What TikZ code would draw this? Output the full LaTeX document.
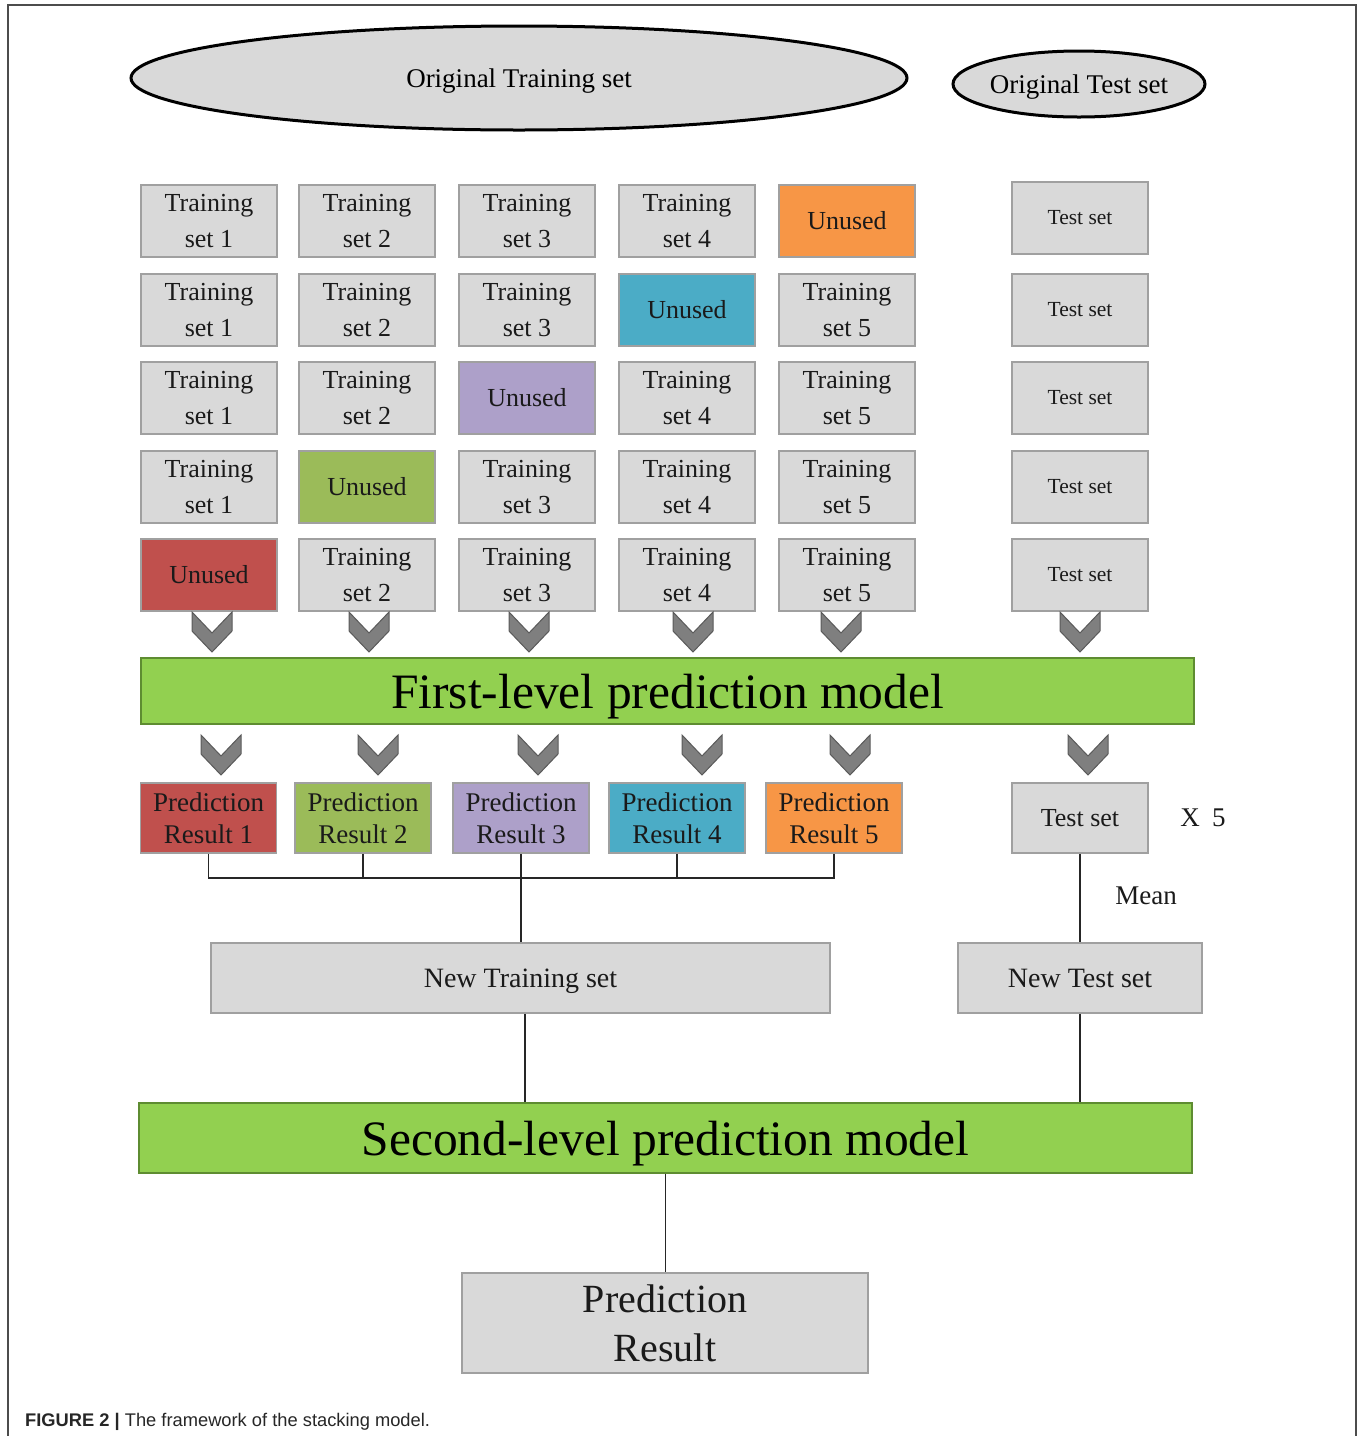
\documentclass[tikz,border=0pt]{standalone}
\usepackage{fontspec}
\setmainfont{Liberation Serif}
\newfontfamily\capfont{Liberation Sans}
\usetikzlibrary{shapes.geometric}
\definecolor{boxgray}{HTML}{D9D9D9}
\definecolor{boxedge}{HTML}{A0A0A0}
\definecolor{cRed}{HTML}{C0504D}
\definecolor{cOlive}{HTML}{9BBB59}
\definecolor{cPurple}{HTML}{ADA0C9}
\definecolor{cBlue}{HTML}{4BACC6}
\definecolor{cOrange}{HTML}{F79646}
\definecolor{barGreen}{HTML}{92D050}
\definecolor{barEdge}{HTML}{5E8C31}
\definecolor{chevFill}{HTML}{7F7F7F}
\definecolor{chevEdge}{HTML}{5A5A5A}
\definecolor{txt}{HTML}{1A1A1A}
\tikzset{
  x=1pt, y=-1pt,
  gbox/.style={draw=boxedge, line width=1.5pt, fill=boxgray, minimum width=136pt, minimum height=72pt, inner sep=0pt, align=center, text=txt, font=\fontsize{26}{36}\selectfont},
  pbox/.style={gbox, minimum height=70pt, font=\fontsize{27}{32}\selectfont},
  tsbox/.style={gbox, font=\fontsize{21.5}{26}\selectfont},
  bar/.style={draw=barEdge, line width=1.2pt, fill=barGreen, minimum width=1053pt, minimum height=66pt, inner sep=0pt, text depth=0pt, font=\fontsize{49.5}{55}\selectfont},
  oval/.style={ellipse, draw=black, line width=3pt, fill=boxgray, inner sep=0pt, text depth=0pt, font=\fontsize{27}{30}\selectfont},
  conn/.style={draw=black!85, line width=1.8pt},
  chevstyle/.style={fill=chevFill, draw=chevEdge, line width=1pt, line join=miter},
  chev/.pic={\path[chevstyle] (-20,0) -- (0,21) -- (20,0) -- (20,19) -- (0,40) -- (-20,19) -- cycle;},
  lbl/.style={font=\fontsize{27}{30}\selectfont, text=txt, inner sep=0pt}
}
\begin{document}
\begin{tikzpicture}
\useasboundingbox (0,0) rectangle (1357,1436);
% frame
\draw[line width=1.2pt, draw=black!70] (8,1436) -- (8,5) -- (1356,5) -- (1356,1436);

% ellipses
\node[oval, minimum width=776pt, minimum height=104pt] (otr) at (519,78) {Original Training set};
\node[oval, minimum width=252pt, minimum height=66pt] (ote) at (1079,84) {Original Test set};

% grid row 1
\node[gbox] (t11) at (209,221) {Training\\set 1};
\node[gbox] (t12) at (367,221) {Training\\set 2};
\node[gbox] (t13) at (527,221) {Training\\set 3};
\node[gbox] (t14) at (687,221) {Training\\set 4};
\node[gbox, fill=cOrange] (t15) at (847,221) {Unused};
% row 2
\node[gbox] (t21) at (209,310) {Training\\set 1};
\node[gbox] (t22) at (367,310) {Training\\set 2};
\node[gbox] (t23) at (527,310) {Training\\set 3};
\node[gbox, fill=cBlue] (t24) at (687,310) {Unused};
\node[gbox] (t25) at (847,310) {Training\\set 5};
% row 3
\node[gbox] (t31) at (209,398) {Training\\set 1};
\node[gbox] (t32) at (367,398) {Training\\set 2};
\node[gbox, fill=cPurple] (t33) at (527,398) {Unused};
\node[gbox] (t34) at (687,398) {Training\\set 4};
\node[gbox] (t35) at (847,398) {Training\\set 5};
% row 4
\node[gbox] (t41) at (209,487) {Training\\set 1};
\node[gbox, fill=cOlive] (t42) at (367,487) {Unused};
\node[gbox] (t43) at (527,487) {Training\\set 3};
\node[gbox] (t44) at (687,487) {Training\\set 4};
\node[gbox] (t45) at (847,487) {Training\\set 5};
% row 5
\node[gbox, fill=cRed] (t51) at (209,575) {Unused};
\node[gbox] (t52) at (367,575) {Training\\set 2};
\node[gbox] (t53) at (527,575) {Training\\set 3};
\node[gbox] (t54) at (687,575) {Training\\set 4};
\node[gbox] (t55) at (847,575) {Training\\set 5};
% test column
\node[tsbox] (s1) at (1080,218) {Test set};
\node[tsbox] (s2) at (1080,310) {Test set};
\node[tsbox] (s3) at (1080,398) {Test set};
\node[tsbox] (s4) at (1080,487) {Test set};
\node[tsbox] (s5) at (1080,575) {Test set};

% chevrons row 1
\foreach \cx in {212,369,529,693,841,1080} \pic at (\cx,612) {chev};

% first-level bar
\node[bar] (fl) at (667.5,691) {First-level prediction model};

% chevrons row 2
\foreach \cx in {221,378,538,702,850,1088} \pic at (\cx,735) {chev};

% prediction results
\node[pbox, fill=cRed] (p1) at (208.5,818) {Prediction\\Result 1};
\node[pbox, fill=cOlive] (p2) at (363,818) {Prediction\\Result 2};
\node[pbox, fill=cPurple] (p3) at (521,818) {Prediction\\Result 3};
\node[pbox, fill=cBlue] (p4) at (677,818) {Prediction\\Result 4};
\node[pbox, fill=cOrange] (p5) at (834,818) {Prediction\\Result 5};
\node[pbox, font=\fontsize{26}{30}\selectfont] (ts) at (1080,818) {Test set};
\node[lbl, anchor=center] (x5) at (1203,818) {X\hspace{0.45em}5};
\node[lbl, anchor=center] (mean) at (1146,896) {Mean};

% new sets
\node[gbox, minimum width=619pt, minimum height=70pt, text depth=0pt, font=\fontsize{28}{32}\selectfont] (ntr) at (520.5,978) {New Training set};
\node[gbox, minimum width=244pt, minimum height=70pt, font=\fontsize{28}{32}\selectfont] (nts) at (1080,978) {New Test set};

% second-level bar
\node[bar, minimum height=70pt] (sl) at (665.5,1138) {Second-level prediction model};

% final result
\node[gbox, minimum width=406pt, minimum height=100pt, font=\fontsize{40}{49}\selectfont] (pr) at (665,1323) {Prediction\\Result};

% connectors
\coordinate (bus) at (0,878);
\draw[conn] (p1.south) -- (p1.south |- bus) -| (p5.south);
\draw[conn] (p2.south) -- (p2.south |- bus);
\draw[conn] (p4.south) -- (p4.south |- bus);
\draw[conn] (p3.south) -- (p3.south |- ntr.north);
\draw[conn] (ts.south) -- (nts.north);
\draw[conn] ([xshift=4.5pt]ntr.south) -- ([xshift=4.5pt]ntr.south |- sl.north);
\draw[conn] (nts.south) -- (nts.south |- sl.north);
\draw[conn] (sl.south) -- (sl.south |- pr.north);

% caption
\node[anchor=west, inner sep=0pt, font=\capfont\fontsize{18.3}{21}\selectfont, text=black!85] (cap) at (25,1422) {\textbf{FIGURE 2 |} The framework of the stacking model.};
\end{tikzpicture}
\end{document}
